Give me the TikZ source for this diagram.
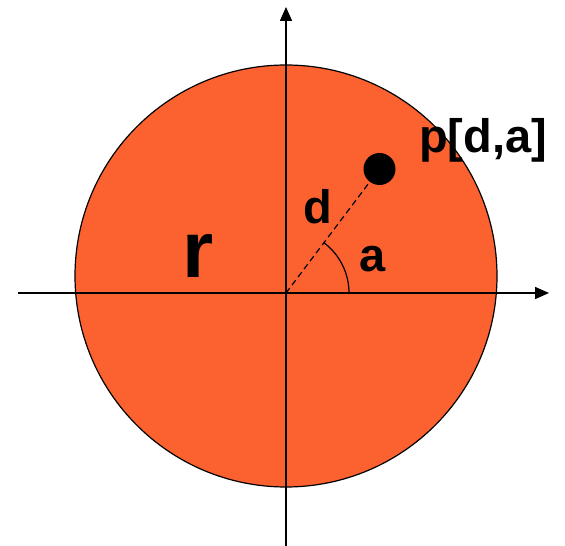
\documentclass[tikz,border=0pt]{standalone}
\usepackage{fontspec}
\setmainfont{Liberation Sans}
\usepackage{tikz}
\usetikzlibrary{arrows.meta}
\definecolor{discfill}{RGB}{252,98,48}

\begin{document}
\begin{tikzpicture}[x=1pt,y=1pt,>={Triangle[length=14pt,width=12pt]},
  axisline/.style={draw=black,line width=1.6pt},
  lbl/.style={inner sep=0pt,font=\bfseries\fontsize{47}{50}\selectfont}]
\useasboundingbox (0,0) rectangle (565,546);
% disc
\fill[discfill,draw=black,line width=1.2pt] (286,270) circle[radius=211];
% axes
\coordinate (o) at (286,253);
\coordinate (xl) at (18,253);
\coordinate (xr) at (549,253);
\coordinate (yb) at (286,0);
\coordinate (yt) at (286,539);
\draw[axisline,->] (xl) -- (xr);
\draw[axisline,->] (yb) -- (yt);
% point and angle
\node[circle,fill=black,inner sep=0pt,minimum size=32pt] (pt) at (379.5,377) {};
\draw[dashed,line width=1.2pt,dash pattern=on 6pt off 4pt] (o) -- (pt);
\draw[line width=1.2pt] ([xshift=63pt]o) arc[start angle=0,end angle=53,radius=63];
\node[lbl] (dlbl) at (318,339) {d};
\node[lbl] (albl) at (373,287) {a};
\node[lbl,font=\bfseries\fontsize{80}{84}\selectfont] (rlbl) at (198,290) {r};
\node[lbl] (plbl) at (483,406) {p[d,a]};
\end{tikzpicture}
\end{document}
